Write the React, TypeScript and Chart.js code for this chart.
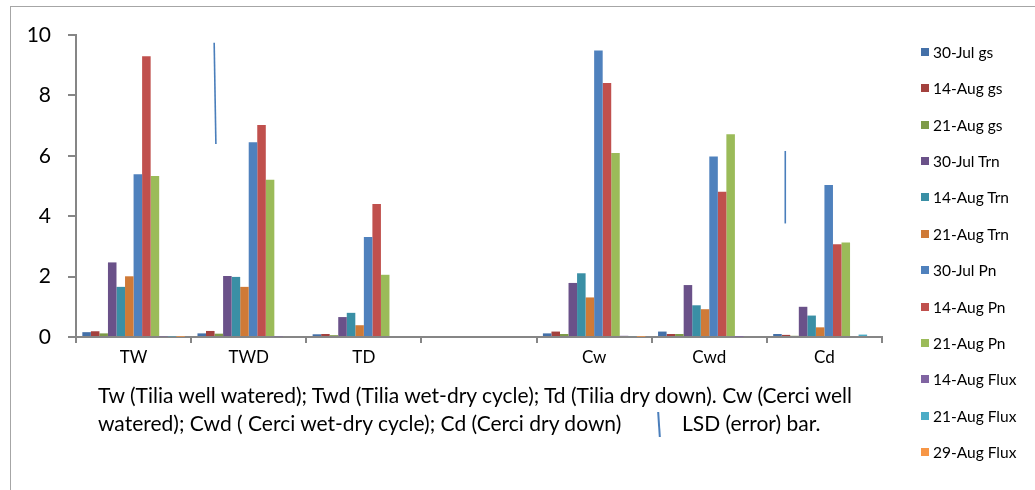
import React, { useEffect, useRef } from "react";
import { Chart, registerables } from "chart.js";

Chart.register(...registerables);

// ---- data ----
const categories = ["TW", "TWD", "TD", "", "Cw", "Cwd", "Cd"];
const seriesNames = [
  "30-Jul gs", "14-Aug gs", "21-Aug gs",
  "30-Jul Trn", "14-Aug Trn", "21-Aug Trn",
  "30-Jul Pn", "14-Aug Pn", "21-Aug Pn",
  "14-Aug Flux", "21-Aug Flux", "29-Aug Flux",
];
const jul30Gs = [0.16, 0.12, 0.09, null, 0.12, 0.18, 0.1];
const aug14Gs = [0.19, 0.2, 0.1, null, 0.18, 0.1, 0.07];
const aug21Gs = [0.12, 0.11, 0.06, null, 0.1, 0.1, 0.04];
const jul30Trn = [2.47, 2.02, 0.66, null, 1.79, 1.72, 1.0];
const aug14Trn = [1.66, 1.99, 0.8, null, 2.11, 1.05, 0.71];
const aug21Trn = [2.01, 1.66, 0.39, null, 1.31, 0.92, 0.32];
const jul30Pn = [5.39, 6.45, 3.31, null, 9.49, 5.98, 5.03];
const aug14Pn = [9.3, 7.02, 4.4, null, 8.41, 4.81, 3.07];
const aug21Pn = [5.33, 5.21, 2.06, null, 6.09, 6.71, 3.13];
const aug14Flux = [0.02, 0.02, 0, null, 0.04, 0.01, 0];
const aug21Flux = [0.02, 0, 0, null, 0.03, 0, 0.08];
const aug29Flux = [0.01, 0, 0, null, 0.01, 0, 0];
const seriesValues = [
  jul30Gs, aug14Gs, aug21Gs, jul30Trn, aug14Trn, aug21Trn,
  jul30Pn, aug14Pn, aug21Pn, aug14Flux, aug21Flux, aug29Flux,
];
const seriesColors = [
  "#4470A8", "#A3413E", "#7E9B48", "#6A5189", "#3A8FA5", "#CF7A37",
  "#4F81BD", "#C0504D", "#9BBB59", "#8064A2", "#4BACC6", "#F79646",
];
const yTicks = [0, 2, 4, 6, 8, 10];

// LSD (error) bars, positions in category units and values
const lsdXTop = [0.7, 5.66];
const lsdXBottom = [0.715, 5.66];
const lsdHigh = [9.74, 6.16];
const lsdLow = [6.39, 3.76];

const noteLine1 =
  "Tw (Tilia well watered); Twd (Tilia wet-dry cycle); Td (Tilia dry down). Cw (Cerci well";
const noteLine2 = "watered); Cwd ( Cerci wet-dry cycle); Cd (Cerci dry down)";
const noteLsd = "LSD (error) bar.";

const FONT = "Lato, 'Open Sans', sans-serif";

const lsdPlugin = {
  id: "lsdLines",
  afterDatasetsDraw(chart: any) {
    const { ctx, scales } = chart;
    const x = scales.x;
    const y = scales.y;
    ctx.save();
    ctx.strokeStyle = "#4A7EBB";
    ctx.lineWidth = 1.6;
    for (let i = 0; i < lsdHigh.length; i++) {
      ctx.beginPath();
      ctx.moveTo(x.getPixelForValue(lsdXTop[i]), y.getPixelForValue(lsdHigh[i]));
      ctx.lineTo(x.getPixelForValue(lsdXBottom[i]), y.getPixelForValue(lsdLow[i]));
      ctx.stroke();
    }
    ctx.restore();
  },
};

export default function App() {
  const ref = useRef<HTMLCanvasElement | null>(null);

  useEffect(() => {
    if (!ref.current) return;
    const chart = new Chart(ref.current, {
      type: "bar",
      data: {
        labels: categories,
        datasets: seriesNames.map((name, i) => ({
          label: name,
          data: seriesValues[i] as any,
          backgroundColor: seriesColors[i],
          borderWidth: 0,
          categoryPercentage: 0.89,
          barPercentage: 1,
        })),
      },
      options: {
        responsive: false,
        animation: false,
        devicePixelRatio: 1,
        layout: { padding: { left: 0, top: 35, right: 153, bottom: 113 } },
        plugins: {
          legend: { display: false },
          tooltip: { enabled: false },
          title: { display: false },
        },
        scales: {
          x: {
            grid: {
              display: true,
              drawOnChartArea: false,
              drawTicks: true,
              tickLength: 6,
              color: "#868686",
              lineWidth: 2,
              offset: true,
            },
            border: { display: true, color: "#868686", width: 2 },
            ticks: {
              color: "#000",
              font: { family: FONT, size: 17 },
              padding: 4,
              maxRotation: 0,
              autoSkip: false,
            },
            afterFit: (s: any) => {
              s.height = 40;
            },
          },
          y: {
            min: 0,
            max: 10,
            afterBuildTicks: (s: any) => {
              s.ticks = yTicks.map((v) => ({ value: v }));
            },
            grid: {
              display: true,
              drawOnChartArea: false,
              drawTicks: true,
              tickLength: 8,
              color: "#868686",
              lineWidth: 2,
            },
            border: { display: true, color: "#868686", width: 2 },
            ticks: {
              color: "#000",
              font: { family: FONT, size: 21 },
              padding: 17,
            },
            afterFit: (s: any) => {
              s.width = 76;
            },
          },
        },
      },
      plugins: [lsdPlugin],
    });
    return () => chart.destroy();
  }, []);

  return (
    <div
      style={{
        position: "fixed",
        left: 0,
        top: 0,
        width: 1035,
        height: 490,
        overflow: "hidden",
        background: "#fff",
        fontFamily: FONT,
      }}
    >
      <div
        style={{
          position: "absolute",
          left: 10,
          top: 6,
          width: 1100,
          height: 600,
          border: "1.5px solid #A6A6A6",
        }}
      />
      <canvas
        ref={ref}
        width={1035}
        height={490}
        style={{ position: "absolute", left: 0, top: 0, width: 1035, height: 490 }}
      />
      {seriesNames.map((name, i) => {
        const cy = 51.7 + 36.4 * i;
        return (
          <React.Fragment key={name}>
            <div
              style={{
                position: "absolute",
                left: 921,
                top: cy - 4,
                width: 8,
                height: 8,
                background: seriesColors[i],
              }}
            />
            <div
              style={{
                position: "absolute",
                left: 933,
                top: cy - 10,
                height: 20,
                lineHeight: "20px",
                fontSize: 15.5,
                color: "#000",
                whiteSpace: "nowrap",
              }}
            >
              {name}
            </div>
          </React.Fragment>
        );
      })}
      <div
        style={{
          position: "absolute",
          left: 98,
          top: 381,
          lineHeight: "28px",
          fontSize: 21,
          color: "#000",
          whiteSpace: "nowrap",
        }}
      >
        {noteLine1}
      </div>
      <div
        style={{
          position: "absolute",
          left: 98,
          top: 409,
          lineHeight: "28px",
          fontSize: 21,
          color: "#000",
          whiteSpace: "nowrap",
        }}
      >
        {noteLine2}
      </div>
      <div
        style={{
          position: "absolute",
          left: 657.5,
          top: 412,
          width: 1.6,
          height: 25,
          background: "#4A7EBB",
          transform: "rotate(-3.7deg)",
        }}
      />
      <div
        style={{
          position: "absolute",
          left: 682,
          top: 409,
          lineHeight: "28px",
          fontSize: 21,
          color: "#000",
          whiteSpace: "nowrap",
        }}
      >
        {noteLsd}
      </div>
    </div>
  );
}
